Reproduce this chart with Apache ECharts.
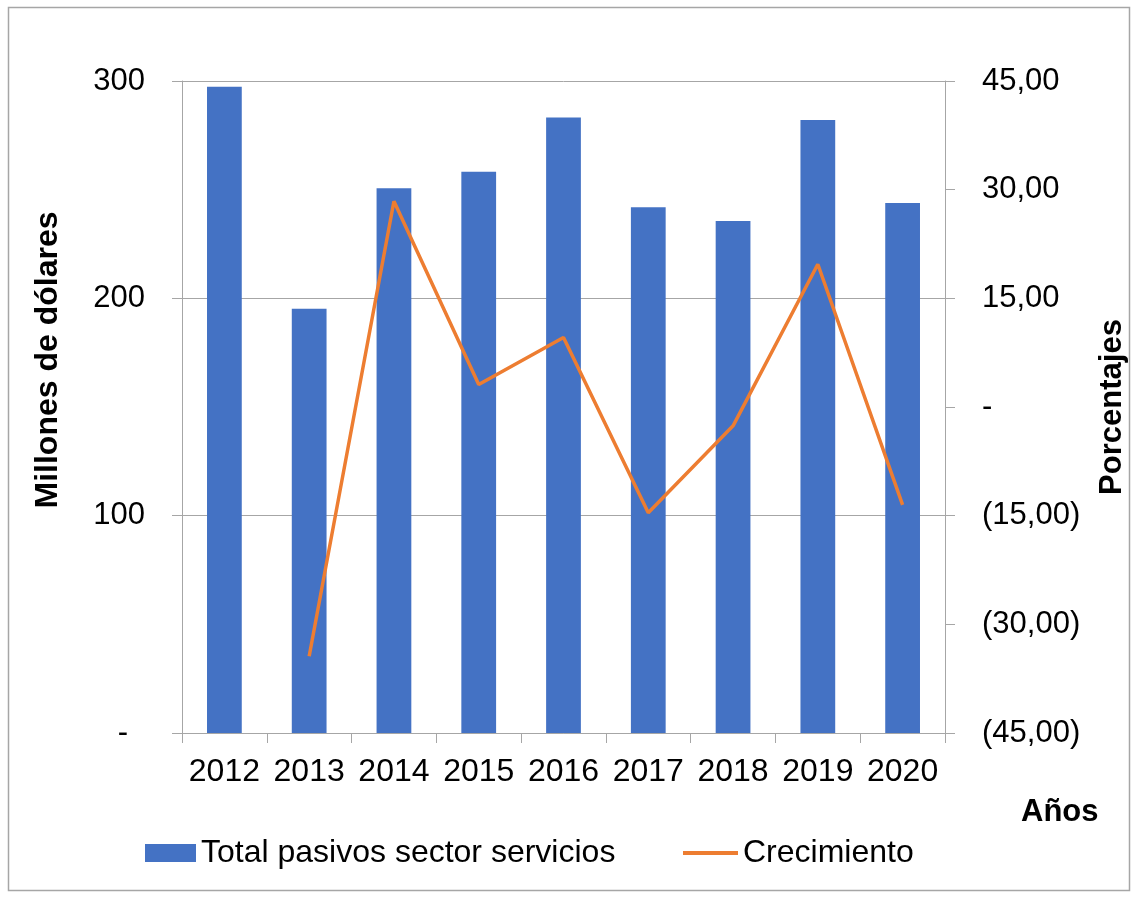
<!DOCTYPE html>
<html>
<head>
<meta charset="utf-8">
<script src="https://cdn.jsdelivr.net/npm/echarts@6/dist/echarts.min.js"></script>
<style>
  html, body { margin: 0; padding: 0; background: #fff; }
  #chart { width: 1138px; height: 898px; }
</style>
</head>
<body>
<div id="chart"></div>
<script>
// Años del periodo
const years = ['2012', '2013', '2014', '2015', '2016', '2017', '2018', '2019', '2020'];
// Total pasivos del sector servicios (millones de dólares)
const pasivos = [297.4, 195.2, 250.7, 258.3, 283.2, 241.9, 235.6, 282.0, 243.9];
// Crecimiento anual (%)
const crecimiento = [null, -34.4, 28.4, 3.1, 9.6, -14.6, -2.6, 19.7, -13.5];

const FONT = "'Liberation Sans', Arial, sans-serif";
const AXIS_GRAY = '#a6a6a6';
const LABEL_SIZE = 31;

function pct(v) {
  if (v === 0) return '-';
  const s = Math.abs(v).toFixed(2).replace('.', ',');
  return v < 0 ? '(' + s + ')' : s;
}

const chart = echarts.init(document.getElementById('chart'), null, { renderer: 'canvas' });

chart.setOption({
  backgroundColor: '#fff',
  animation: false,
  textStyle: { fontFamily: FONT },
  grid: { left: 182, right: 193, top: 81, bottom: 165, containLabel: false },
  legend: [
    {
      data: [{ name: 'Total pasivos sector servicios', icon: 'rect' }],
      left: 145, top: 837, padding: 0,
      itemWidth: 51, itemHeight: 18, itemGap: 0,
      textStyle: { fontSize: 32, color: '#000', fontFamily: FONT }
    },
    {
      data: [{ name: 'Crecimiento', icon: 'rect' }],
      left: 683, top: 837, padding: 0,
      itemWidth: 55, itemHeight: 4, itemGap: 0,
      textStyle: { fontSize: 32, color: '#000', fontFamily: FONT }
    }
  ],
  xAxis: {
    type: 'category',
    data: years,
    boundaryGap: true,
    axisLine: { show: true, lineStyle: { color: AXIS_GRAY, width: 1 } },
    axisTick: { show: true, alignWithLabel: false, interval: 0, length: 10, lineStyle: { color: AXIS_GRAY } },
    axisLabel: { interval: 0, fontSize: 32, color: '#000', margin: 23, fontFamily: FONT }
  },
  yAxis: [
    {
      type: 'value',
      min: 0, max: 300, interval: 100,
      position: 'left',
      axisLine: { show: true, lineStyle: { color: AXIS_GRAY, width: 1 } },
      axisTick: { show: true, inside: false, length: 10, lineStyle: { color: AXIS_GRAY } },
      splitLine: { show: true, lineStyle: { color: AXIS_GRAY, width: 1 } },
      axisLabel: {
        fontSize: LABEL_SIZE, color: '#000', margin: 37, fontFamily: FONT,
        formatter: v => v === 0 ? '{z|-}' : String(v),
        rich: { z: { fontSize: LABEL_SIZE, fontFamily: FONT, color: '#000', padding: [0, 17, 0, 0] } }
      }
    },
    {
      type: 'value',
      min: -45, max: 45, interval: 15,
      position: 'right',
      axisLine: { show: true, lineStyle: { color: AXIS_GRAY, width: 1 } },
      axisTick: { show: true, inside: false, length: 10, lineStyle: { color: AXIS_GRAY } },
      splitLine: { show: false },
      axisLabel: {
        fontSize: LABEL_SIZE, color: '#000', margin: 37, align: 'left', fontFamily: FONT,
        formatter: v => pct(v)
      }
    }
  ],
  series: [
    {
      name: 'Total pasivos sector servicios',
      type: 'bar',
      yAxisIndex: 0,
      data: pasivos,
      barWidth: '41%',
      itemStyle: { color: '#4472C4' }
    },
    {
      name: 'Crecimiento',
      type: 'line',
      yAxisIndex: 1,
      data: crecimiento,
      symbol: 'none',
      connectNulls: false,
      lineStyle: { color: '#ED7D31', width: 3.5 },
      itemStyle: { color: '#ED7D31' }
    }
  ],
  graphic: [
    {
      type: 'rect',
      shape: { x: 8.5, y: 7.5, width: 1121, height: 883 },
      style: { fill: 'none', stroke: '#a6a6a6', lineWidth: 1.5 },
      silent: true, z: -1
    },
    {
      type: 'text',
      x: 48, y: 360, rotation: Math.PI / 2,
      style: {
        text: 'Millones de dólares', fontSize: 32, fontWeight: 'bold', fontFamily: FONT,
        fill: '#000', align: 'center', verticalAlign: 'middle'
      }
    },
    {
      type: 'text',
      x: 1112, y: 407, rotation: Math.PI / 2,
      style: {
        text: 'Porcentajes', fontSize: 31, fontWeight: 'bold', fontFamily: FONT,
        fill: '#000', align: 'center', verticalAlign: 'middle'
      }
    },
    {
      type: 'text',
      x: 1021, y: 812,
      style: {
        text: 'Años', fontSize: 31, fontWeight: 'bold', fontFamily: FONT,
        fill: '#000', align: 'left', verticalAlign: 'middle'
      }
    }
  ]
});
</script>
</body>
</html>
